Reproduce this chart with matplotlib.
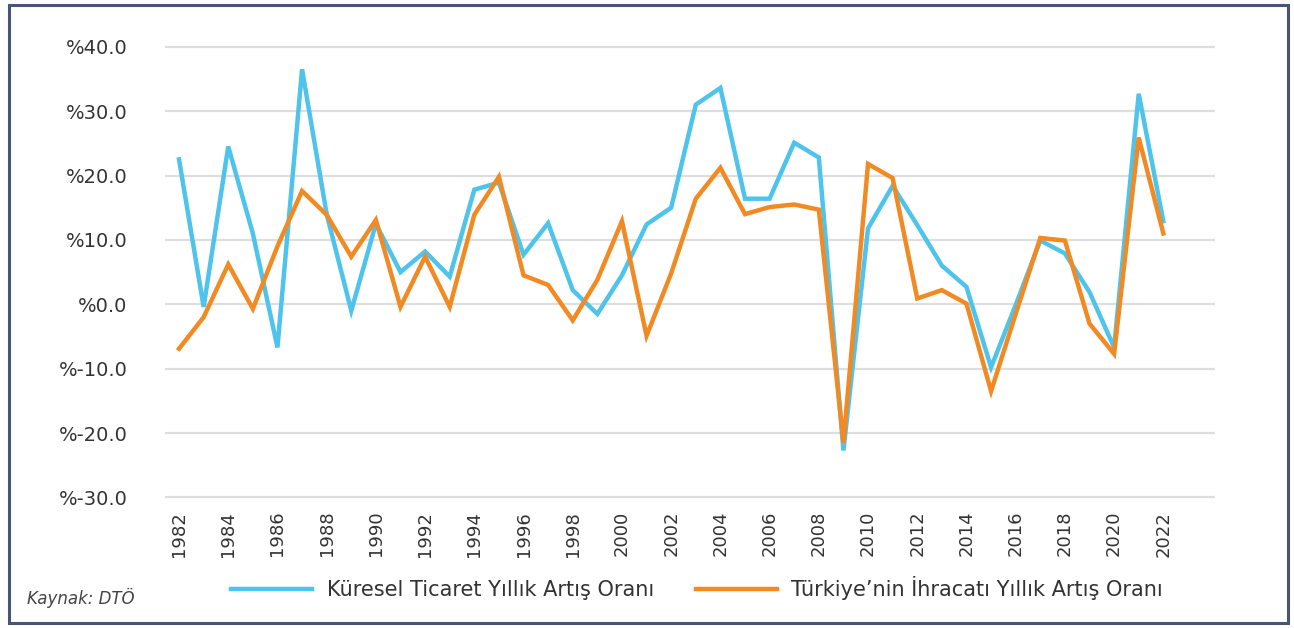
import matplotlib
matplotlib.use("Agg")
import matplotlib.pyplot as plt
from matplotlib.patches import Rectangle

years = list(range(1982, 2023))
kuresel = [22.5, -0.4, 24.5, 11.0, -6.7, 36.5, 14.0, -1.0, 12.5, 5.0,
           8.2, 4.3, 17.8, 18.9, 7.7, 12.6, 2.2, -1.5, 4.5, 12.4,
           15.0, 31.0, 33.6, 16.4, 16.4, 25.1, 22.8, -22.7, 11.8, 18.4,
           12.3, 6.0, 2.7, -9.8, -0.1, 9.9, 7.9, 1.9, -6.7, 32.7, 12.9]
turkiye = [-6.9, -2.0, 6.2, -0.7, 9.0, 17.6, 13.9, 7.4, 13.1, -0.4,
           7.4, -0.4, 13.9, 19.8, 4.5, 3.0, -2.5, 3.8, 12.9, -4.9,
           4.8, 16.4, 21.2, 14.0, 15.1, 15.5, 14.7, -21.5, 21.8, 19.6,
           0.9, 2.2, 0.1, -13.5, -1.5, 10.3, 9.9, -3.0, -7.7, 25.9, 11.0]
yticks = [40, 30, 20, 10, 0, -10, -20, -30]
xticks = list(range(1982, 2023, 2))
label_blue = "Küresel Ticaret Yıllık Artış Oranı"
label_orange = "Türkiye’nin İhracatı Yıllık Artış Oranı"
source = "Kaynak: DTÖ"

W, H = 1294, 628
fig = plt.figure(figsize=(W / 100, H / 100), dpi=100)
fig.patch.set_facecolor("white")

ax = fig.add_axes([165 / W, (H - 503.9) / H, (1215 - 165) / W, (503.9 - 40.3) / H])
ax.plot(years, kuresel, color="#4EC3EC", lw=3.2, label=label_blue, solid_joinstyle="miter")
ax.plot(years, turkiye, color="#F28A24", lw=3.2, label=label_orange, solid_joinstyle="miter")

ax.set_xlim(1981.43, 2024.1)
ax.set_ylim(-31, 41)
ax.set_yticks(yticks)
ax.set_yticklabels([f"%{v:.1f}" for v in yticks], fontsize=14, color="#333333")
ax.set_xticks(xticks)
ax.set_xticklabels([str(x) for x in xticks], rotation=90, fontsize=13, color="#333333")
ax.tick_params(axis="both", length=0)
ax.tick_params(axis="y", pad=27)
ax.tick_params(axis="x", pad=5)
ax.grid(axis="y", color="#dedede", lw=1.6)
ax.set_axisbelow(True)
for s in ax.spines.values():
    s.set_visible(False)

fig.legend(loc="center", bbox_to_anchor=(697 / W, 1 - 588 / H), ncol=2, frameon=False,
           fontsize=15, handlelength=3.9, handletextpad=0.7, columnspacing=2.0,
           labelcolor="#333333")

fig.text(27 / W, 1 - 598 / H, source, fontsize=12, style="italic", color="#444444",
         ha="left", va="center")

fig.patches.append(Rectangle((9 / W, 5 / H), (1288 - 9) / W, (623 - 5) / H,
                             transform=fig.transFigure, fill=False,
                             edgecolor="#4a5478", lw=2.2))

fig.savefig("out.png", dpi=100, facecolor="white")
